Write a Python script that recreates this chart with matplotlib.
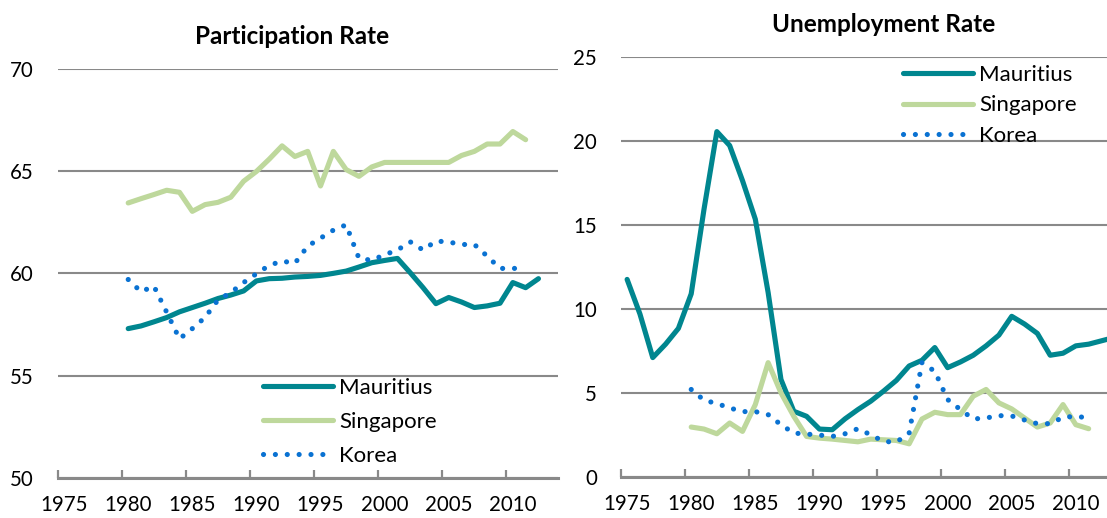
import matplotlib
matplotlib.use('Agg')
import matplotlib.pyplot as plt
from matplotlib.ticker import FixedLocator

plt.rcParams['font.family'] = ['Lato', 'DejaVu Sans']

# ---------------- data ----------------
years_part = list(range(1980, 2013))
mauritius_part = [57.3, 57.43, 57.63, 57.84, 58.12, 58.33, 58.54, 58.77, 58.94, 59.14,
                  59.63, 59.74, 59.76, 59.82, 59.85, 59.9, 60.0, 60.11, 60.31, 60.52,
                  60.63, 60.73, 60.03, 59.3, 58.52, 58.82, 58.6, 58.33, 58.41, 58.54,
                  59.55, 59.3, 59.74]
years_part_sk = list(range(1980, 2012))
singapore_part = [63.44, 63.65, 63.85, 64.06, 63.96, 63.03, 63.36, 63.47, 63.72, 64.5,
                  64.98, 65.58, 66.23, 65.71, 65.96, 64.27, 65.96, 65.07, 64.74, 65.2,
                  65.42, 65.42, 65.42, 65.42, 65.42, 65.42, 65.76, 65.96, 66.32, 66.32,
                  66.93, 66.53]
korea_part = [59.7, 59.1, 59.38, 58.1, 56.8, 57.3, 57.85, 58.7, 59.06, 59.55,
              59.98, 60.39, 60.6, 60.49, 61.33, 61.72, 62.11, 62.37, 60.73, 60.64,
              60.91, 61.14, 61.54, 61.14, 61.58, 61.53, 61.41, 61.41, 60.84, 60.24,
              60.24, 60.25]

years_unemp_m = list(range(1975, 2014))
mauritius_unemp = [11.76, 9.7, 7.1, 7.9, 8.84, 10.9, 15.95, 20.57, 19.74, 17.65,
                   15.35, 10.98, 5.8, 3.9, 3.6, 2.84, 2.8, 3.45, 4.0, 4.5,
                   5.1, 5.74, 6.6, 6.94, 7.7, 6.5, 6.84, 7.24, 7.8, 8.44,
                   9.56, 9.1, 8.54, 7.24, 7.36, 7.8, 7.9, 8.1, 8.3]
years_unemp_sk = list(range(1980, 2012))
singapore_unemp = [2.96, 2.84, 2.56, 3.2, 2.7, 4.3, 6.8, 5.0, 3.6, 2.4,
                   2.3, 2.24, 2.16, 2.08, 2.24, 2.2, 2.16, 1.96, 3.44, 3.84,
                   3.7, 3.7, 4.8, 5.2, 4.4, 4.04, 3.5, 2.96, 3.2, 4.3,
                   3.1, 2.86]
korea_unemp = [5.2, 4.56, 4.36, 4.1, 3.88, 3.88, 3.7, 3.1, 2.6, 2.54,
               2.48, 2.4, 2.56, 2.86, 2.5, 2.1, 2.06, 2.6, 6.8, 6.28,
               4.6, 4.0, 3.44, 3.5, 3.64, 3.62, 3.38, 3.16, 3.16, 3.54,
               3.6, 3.5]

x_labels = [1975, 1980, 1985, 1990, 1995, 2000, 2005, 2010]
series_names = ['Mauritius', 'Singapore', 'Korea']
part_yticks = [50, 55, 60, 65, 70]
unemp_yticks = [0, 5, 10, 15, 20, 25]

# ---------------- style ----------------
C_MAU = '#00868F'
C_SIN = '#BED89C'
C_KOR = '#0A72D2'
GRID = '#898989'
LW = 3.7
DOT = (0, (0.01, 2.3))

W, H = 1107, 518
fig = plt.figure(figsize=(W / 100, H / 100), dpi=100)


def rect(x0, x1, ytop, ybot):
    return [x0 / W, 1 - ybot / H, (x1 - x0) / W, (ybot - ytop) / H]


ax1 = fig.add_axes(rect(57.7, 557.7, 68.7, 478))
ax2 = fig.add_axes(rect(620.7, 1120.7, 57.3, 476.7))


def style(ax, yticks):
    ax.set_xlim(1974.5, 2013.5)
    ax.set_ylim(yticks[0], yticks[-1])
    ax.set_yticks(yticks)
    ax.yaxis.grid(True, color=GRID, lw=1.5)
    ax.set_axisbelow(True)
    for s in ['top', 'right', 'left']:
        ax.spines[s].set_visible(False)
    ax.spines['bottom'].set_color(GRID)
    ax.spines['bottom'].set_linewidth(2.2)
    ax.set_xticks(x_labels)
    ax.set_xticklabels([str(v) for v in x_labels])
    ax.xaxis.set_minor_locator(FixedLocator([v - 0.5 for v in x_labels]))
    ax.tick_params(axis='x', which='major', length=0, pad=12.5, labelsize=14.8)
    ax.tick_params(axis='x', which='minor', direction='in', length=5.5, width=1.6,
                   color=GRID)
    ax.tick_params(axis='y', length=0, pad=17, labelsize=14.8)


def draw(ax, ym, m, ysk, s, k):
    l1, = ax.plot(ym, m, color=C_MAU, lw=LW, solid_capstyle='round',
                  solid_joinstyle='round', label=series_names[0])
    l2, = ax.plot(ysk, s, color=C_SIN, lw=LW, solid_capstyle='round',
                  solid_joinstyle='round', label=series_names[1])
    l3, = ax.plot(ysk, k, color=C_KOR, lw=LW, linestyle=DOT,
                  dash_capstyle='round', label=series_names[2])
    return [l1, l2, l3]


h1 = draw(ax1, years_part, mauritius_part, years_part_sk, singapore_part, korea_part)
h2 = draw(ax2, years_unemp_m, mauritius_unemp, years_unemp_sk, singapore_unemp, korea_unemp)
style(ax1, part_yticks)
style(ax2, unemp_yticks)

fig.legend(handles=h1, loc='upper left', bbox_to_anchor=(263 / W, 1 - 378 / H),
           frameon=False, fontsize=16, handlelength=3.15, handletextpad=0.27,
           labelspacing=0.63, borderpad=0, borderaxespad=0)
fig.legend(handles=h2, loc='upper left', bbox_to_anchor=(903 / W, 1 - 65 / H),
           frameon=False, fontsize=16, handlelength=3.15, handletextpad=0.27,
           labelspacing=0.47, borderpad=0, borderaxespad=0)

fig.text(292 / W, 1 - 37 / H, 'Participation Rate', ha='center', va='center',
         fontsize=17.5, fontweight='bold')
fig.text(884 / W, 1 - 24 / H, 'Unemployment Rate', ha='center', va='center',
         fontsize=17.5, fontweight='bold')

fig.savefig('out.png', dpi=100)
